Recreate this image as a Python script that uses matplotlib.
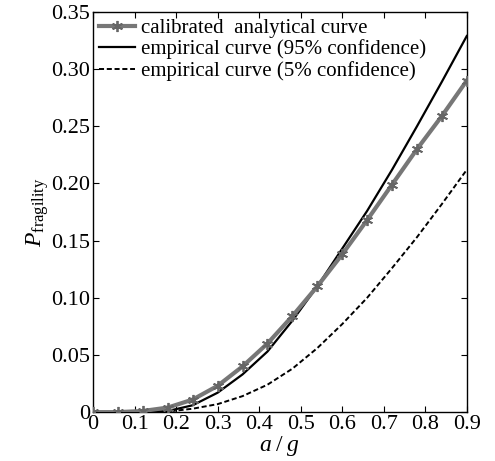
import numpy as np
import matplotlib
matplotlib.use('Agg')
import matplotlib.pyplot as plt
from matplotlib.ticker import FixedLocator, FixedFormatter

plt.rcParams['font.family'] = ['Liberation Serif', 'DejaVu Serif']
plt.rcParams['mathtext.fontset'] = 'custom'
plt.rcParams['mathtext.rm'] = 'Liberation Serif'
plt.rcParams['mathtext.it'] = 'Liberation Serif:italic'

# data
ag = [0, 0.06, 0.12, 0.18, 0.24, 0.30, 0.36, 0.42, 0.48, 0.54,
      0.60, 0.66, 0.72, 0.78, 0.84, 0.90]
p_calibrated = [0, 0, 0.001, 0.004, 0.011, 0.023, 0.040, 0.060, 0.084, 0.110,
                0.138, 0.168, 0.199, 0.230, 0.259, 0.290]
p_emp95 = [0, 0, 0, 0.001, 0.006, 0.017, 0.033, 0.053, 0.080, 0.110,
           0.143, 0.176, 0.212, 0.250, 0.289, 0.329]
p_emp5 = [0, 0, 0, 0.0005, 0.003, 0.007, 0.014, 0.024, 0.038, 0.056,
          0.077, 0.100, 0.126, 0.153, 0.182, 0.212]

xticks = [0, 0.1, 0.2, 0.3, 0.4, 0.5, 0.6, 0.7, 0.8, 0.9]
xtick_labels = ['0', '0.1', '0.2', '0.3', '0.4', '0.5', '0.6', '0.7', '0.8', '0.9']
yticks = [0, 0.05, 0.10, 0.15, 0.20, 0.25, 0.30, 0.35]
ytick_labels = ['0', '0.05', '0.10', '0.15', '0.20', '0.25', '0.30', '0.35']

fig = plt.figure(figsize=(4.95, 4.61), dpi=100)
ax = fig.add_axes([0.188, 0.106, 0.755, 0.868])

ax.plot(ag, p_calibrated, color='#777777', lw=3, marker=(6, 2, 0), ms=8, mew=1.3,
        mec='#666666', label='calibrated  analytical curve', zorder=3)
ax.plot(ag, p_emp95, color='black', lw=1.6, label='empirical curve (95% confidence)')
ax.plot(ag, p_emp5, color='black', lw=1.4, ls=(0, (2.6, 1.4)),
        label='empirical curve (5% confidence)')

ax.set_xlim(0, 0.9)
ax.set_ylim(0, 0.35)
ax.xaxis.set_major_locator(FixedLocator(xticks))
ax.xaxis.set_major_formatter(FixedFormatter(xtick_labels))
ax.yaxis.set_major_locator(FixedLocator(yticks))
ax.yaxis.set_major_formatter(FixedFormatter(ytick_labels))
ax.tick_params(direction='in', length=4, width=0.8, labelsize=16,
               top=True, right=True, pad=2)
for s in ax.spines.values():
    s.set_linewidth(1.0)

ax.set_xlabel(r'$a\;/\;g$', fontsize=17, labelpad=0)
ax.set_ylabel(r'$P_{\mathrm{fragility}}$', fontsize=17, labelpad=0)

ax.legend(loc='upper left', frameon=False, fontsize=15, handlelength=1.7,
          handletextpad=0.3, labelspacing=0.08, borderaxespad=0.1,
          borderpad=0.2)

fig.savefig('out.png', dpi=100)
